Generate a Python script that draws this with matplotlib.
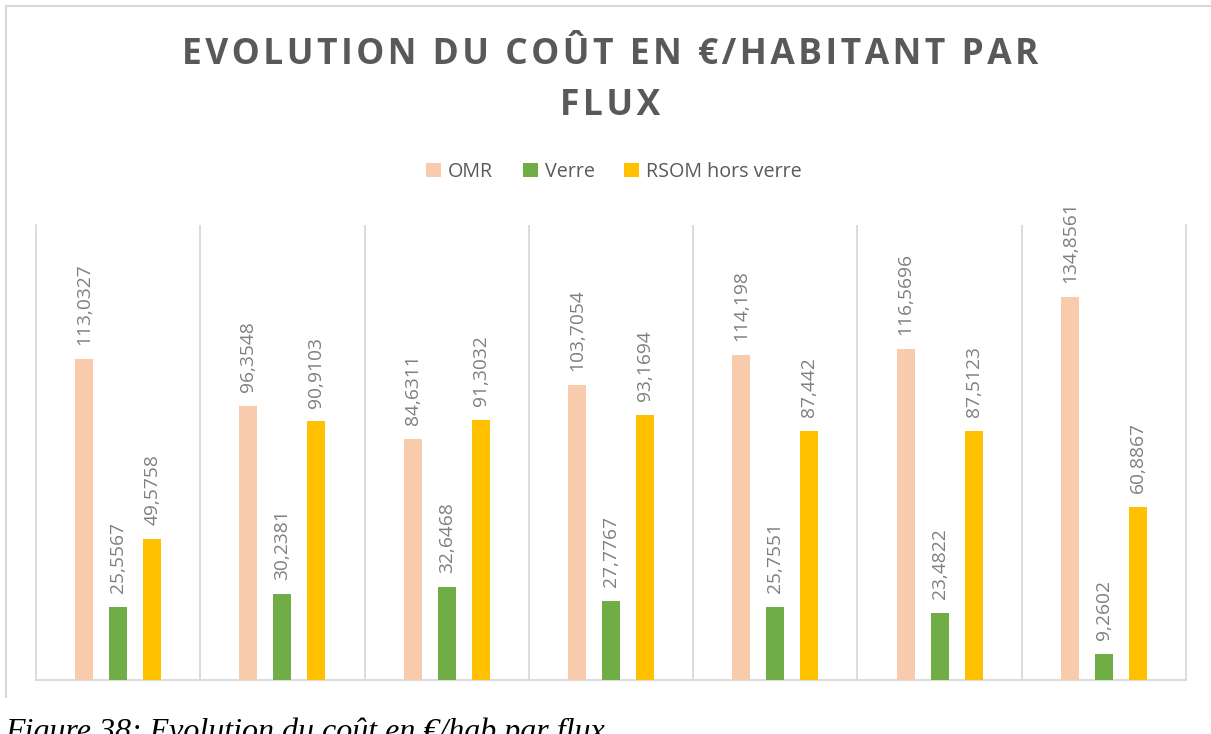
import matplotlib.pyplot as plt
import numpy as np
from matplotlib.lines import Line2D

# Données : coût en €/habitant par flux, 7 périodes
categories = ["1", "2", "3", "4", "5", "6", "7"]
omr = [113.0327, 96.3548, 84.6311, 103.7054, 114.198, 116.5696, 134.8561]
verre = [25.5567, 30.2381, 32.6468, 27.7767, 25.7551, 23.4822, 9.2602]
rsom = [49.5758, 90.9103, 91.3032, 93.1694, 87.442, 87.5123, 60.8867]
labels_omr = ["113,0327", "96,3548", "84,6311", "103,7054", "114,198", "116,5696", "134,8561"]
labels_verre = ["25,5567", "30,2381", "32,6468", "27,7767", "25,7551", "23,4822", "9,2602"]
labels_rsom = ["49,5758", "90,9103", "91,3032", "93,1694", "87,442", "87,5123", "60,8867"]

series = [
    ("OMR", omr, labels_omr, "#F8CBAD"),
    ("Verre", verre, labels_verre, "#70AD47"),
    ("RSOM hors verre", rsom, labels_rsom, "#FFC000"),
]

plt.rcParams['font.family'] = ['Open Sans', 'DejaVu Sans']

W, H = 1211, 734
fig = plt.figure(figsize=(W / 100, H / 100), dpi=100)
ax = fig.add_axes([36 / W, 1 - 680 / H, (1186 - 36) / W, (680 - 225) / H])

x = np.arange(len(categories))
largeur = 0.11
pas = 0.207
gris_grille = "#D9D9D9"

for i, (nom, valeurs, etiquettes, couleur) in enumerate(series):
    pos = x + (i - 1) * pas
    ax.bar(pos, valeurs, width=largeur, color=couleur, label=nom, zorder=3)
    for px, v, t in zip(pos, valeurs, etiquettes):
        ax.annotate(t, (px, v), xytext=(0, 10), textcoords="offset points",
                    rotation=90, ha="center", va="bottom",
                    fontsize=13.8, color="#7F7F7F")

ax.set_xlim(-0.5, len(categories) - 0.5)
ax.set_ylim(0, 160)
ax.set_xticks([])
ax.set_yticks([])

# séparateurs verticaux entre les catégories
for b in np.arange(0.5, len(categories) - 0.5, 1):
    ax.axvline(b, color=gris_grille, lw=1.3, zorder=1)
ax.spines["top"].set_visible(False)
for cote in ["left", "right", "bottom"]:
    ax.spines[cote].set_color(gris_grille)
    ax.spines[cote].set_linewidth(1.3)

# cadre du graphique
fig.add_artist(Line2D([6 / W, 1.0], [1 - 6 / H, 1 - 6 / H], color=gris_grille, lw=1.5))
fig.add_artist(Line2D([6 / W, 6 / W], [1 - 6 / H, 1 - 697 / H], color=gris_grille, lw=1.5))

# titre avec espacement des lettres
def espacer(texte):
    return "\u200a".join(texte)

fig.text(610 / W, 1 - 55 / H, espacer("EVOLUTION DU COÛT EN €/HABITANT PAR"),
         ha="center", va="center", fontsize=25.5, fontweight="bold", color="#595959")
fig.text(610 / W, 1 - 106 / H, espacer("FLUX"),
         ha="center", va="center", fontsize=25.5, fontweight="bold", color="#595959")

fig.legend(loc="center", bbox_to_anchor=(614 / W, 1 - 172 / H), ncol=3, frameon=False,
           fontsize=14.2, labelcolor="#595959", handlelength=0.75, handleheight=0.75,
           handletextpad=0.35, columnspacing=1.5)

# légende de la figure (en partie coupée en bas)
fig.text(5 / W, 1 - 740 / H, "Figure 38: Evolution du coût en €/hab par flux",
         ha="left", va="baseline", fontsize=23, style="italic",
         family="Liberation Serif", color="black")

fig.savefig("out.png", dpi=100)
